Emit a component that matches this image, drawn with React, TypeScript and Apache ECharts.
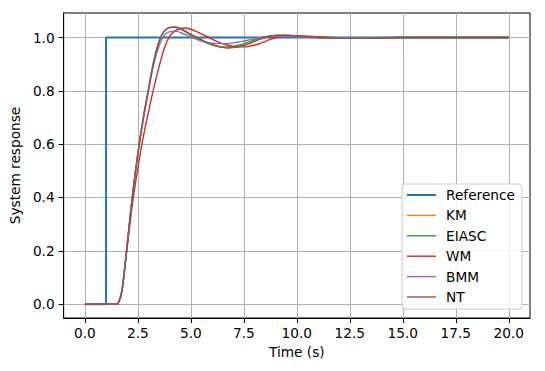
import React, { useEffect, useRef } from "react";
import * as echarts from "echarts";

const times = [0, 1.5, 1.6, 1.75, 1.9, 2.0, 2.25, 2.5, 2.75, 3.0, 3.25, 3.5, 3.75, 4.0, 4.25, 4.5, 4.75, 5.0, 5.25, 5.5, 5.75, 6.0, 6.25, 6.5, 6.75, 7.0, 7.25, 7.5, 7.75, 8.0, 8.25, 8.5, 8.75, 9.0, 9.25, 9.5, 9.75, 10, 10.5, 11, 11.5, 12, 12.5, 13, 14, 15, 16, 17, 18, 19, 20];

const refTimes = [0, 1, 1, 20];
const refValues = [0, 0, 1, 1];

const kmValues = [0, 0, 0.008, 0.05, 0.15, 0.225, 0.41, 0.565, 0.695, 0.805, 0.91, 0.985, 1.025, 1.038, 1.039, 1.033, 1.023, 1.011, 1.001, 0.991, 0.981, 0.973, 0.967, 0.963, 0.962, 0.963, 0.966, 0.971, 0.978, 0.986, 0.994, 1.0, 1.005, 1.008, 1.009, 1.009, 1.008, 1.006, 1.003, 1.0, 0.998, 0.997, 0.997, 0.998, 0.999, 1, 1, 1, 1, 1, 1];
const eiascValues = [0, 0, 0.008, 0.05, 0.15, 0.225, 0.41, 0.565, 0.695, 0.805, 0.91, 0.985, 1.024, 1.037, 1.038, 1.032, 1.021, 1.009, 0.999, 0.989, 0.98, 0.973, 0.968, 0.965, 0.965, 0.967, 0.971, 0.977, 0.984, 0.991, 0.998, 1.003, 1.006, 1.008, 1.008, 1.007, 1.006, 1.004, 1.002, 1.0, 0.998, 0.998, 0.998, 0.999, 0.999, 1, 1, 1, 1, 1, 1];
const wmValues = [0, 0, 0.008, 0.05, 0.148, 0.215, 0.38, 0.51, 0.625, 0.72, 0.81, 0.89, 0.96, 1.005, 1.025, 1.034, 1.036, 1.031, 1.023, 1.014, 1.004, 0.994, 0.985, 0.977, 0.971, 0.967, 0.965, 0.965, 0.967, 0.971, 0.977, 0.985, 0.993, 0.999, 1.003, 1.006, 1.007, 1.007, 1.005, 1.003, 1.001, 0.999, 0.998, 0.998, 0.999, 1, 1, 1, 1, 1, 1];
const bmmValues = [0, 0, 0.008, 0.05, 0.15, 0.225, 0.41, 0.563, 0.69, 0.8, 0.9, 0.968, 1.008, 1.022, 1.024, 1.019, 1.011, 1.002, 0.994, 0.987, 0.982, 0.979, 0.977, 0.977, 0.978, 0.98, 0.983, 0.987, 0.991, 0.995, 0.999, 1.002, 1.004, 1.005, 1.005, 1.005, 1.004, 1.003, 1.001, 1.0, 0.999, 0.999, 0.999, 0.999, 1.0, 1, 1, 1, 1, 1, 1];
const ntValues = [0, 0, 0.008, 0.05, 0.15, 0.225, 0.41, 0.565, 0.695, 0.805, 0.91, 0.985, 1.025, 1.038, 1.04, 1.034, 1.024, 1.012, 1.002, 0.992, 0.982, 0.974, 0.967, 0.963, 0.961, 0.962, 0.965, 0.97, 0.977, 0.985, 0.993, 1.0, 1.005, 1.008, 1.009, 1.009, 1.008, 1.006, 1.003, 1.0, 0.998, 0.997, 0.997, 0.998, 0.999, 1, 1, 1, 1, 1, 1];

const xTicks = [0, 2.5, 5, 7.5, 10, 12.5, 15, 17.5, 20];
const yTicks = [0, 0.2, 0.4, 0.6, 0.8, 1.0];

const seriesDefs = [
  { name: "KM", values: kmValues, color: "#ff7f0e" },
  { name: "EIASC", values: eiascValues, color: "#2ca02c" },
  { name: "WM", values: wmValues, color: "#d62728" },
  { name: "BMM", values: bmmValues, color: "#9467bd" },
  { name: "NT", values: ntValues, color: "#8c564b" },
];

const FONT = "DejaVu Sans";
const FS = 13.7;

export default function App() {
  const ref = useRef<HTMLDivElement>(null);
  useEffect(() => {
    if (!ref.current) return;
    const chart = echarts.init(ref.current, null, { renderer: "svg" });
    const pair = (ts: number[], vs: number[]) => ts.map((t, i) => [t, vs[i]]);
    const thickIcon = "path://M0,0 L29,0 L29,2 L0,2 Z";
    const thinIcon = "path://M0,0 L29,0 L29,1.4 L0,1.4 Z";
    chart.setOption({
      animation: false,
      backgroundColor: "#ffffff",
      textStyle: { fontFamily: FONT, fontSize: FS, color: "#000" },
      grid: {
        left: 61,
        top: 13,
        right: 15,
        bottom: 53,
        show: true,
        borderColor: "#000",
        borderWidth: 1,
        backgroundColor: "transparent",
      },
      xAxis: {
        type: "value",
        min: -1,
        max: 21,
        name: "Time (s)",
        nameLocation: "middle",
        nameGap: 27,
        nameTextStyle: { fontFamily: FONT, fontSize: FS, color: "#000" },
        axisLine: { show: true, onZero: false, lineStyle: { color: "#000", width: 1 } },
        axisTick: { show: true, length: 5, customValues: xTicks, lineStyle: { color: "#000", width: 1 } },
        axisLabel: {
          customValues: xTicks,
          margin: 8,
          fontFamily: FONT,
          fontSize: FS,
          color: "#000",
          formatter: (v: number) => v.toFixed(1),
        },
        splitLine: { show: true, lineStyle: { color: "#b0b0b0", width: 1 } },
      },
      yAxis: {
        type: "value",
        min: -0.052,
        max: 1.092,
        name: "System response",
        nameLocation: "middle",
        nameGap: 33,
        nameTextStyle: { fontFamily: FONT, fontSize: FS, color: "#000" },
        axisLine: { show: true, onZero: false, lineStyle: { color: "#000", width: 1 } },
        axisTick: { show: true, length: 5, customValues: yTicks, lineStyle: { color: "#000", width: 1 } },
        axisLabel: {
          customValues: yTicks,
          margin: 9,
          fontFamily: FONT,
          fontSize: FS,
          color: "#000",
          formatter: (v: number) => v.toFixed(1),
        },
        splitLine: { show: true, lineStyle: { color: "#b0b0b0", width: 1 } },
      },
      legend: {
        orient: "vertical",
        left: 402,
        top: 184,
        padding: [4, 7, 5, 5],
        itemWidth: 29,
        itemHeight: 14,
        itemGap: 6.4,
        symbolKeepAspect: true,
        backgroundColor: "rgba(255,255,255,0.85)",
        borderColor: "#cccccc",
        borderWidth: 1,
        borderRadius: 3,
        textStyle: { fontFamily: FONT, fontSize: FS, color: "#000", lineHeight: 14, padding: [0, 0, 0, 5] },
        data: [
          { name: "Reference", icon: thickIcon },
          ...seriesDefs.map((s) => ({ name: s.name, icon: thinIcon })),
        ],
      },
      series: [
        {
          name: "Reference",
          type: "line",
          data: pair(refTimes, refValues),
          symbol: "none",
          color: "#1f77b4",
          itemStyle: { color: "#1f77b4" },
          lineStyle: { color: "#1f77b4", width: 2 },
          z: 2,
        },
        ...seriesDefs.map((s, i) => ({
          name: s.name,
          type: "line",
          data: pair(times, s.values),
          symbol: "none",
          smooth: 0.3,
          color: s.color,
          itemStyle: { color: s.color },
          lineStyle: { color: s.color, width: 1.4 },
          z: 3 + i,
        })),
      ],
    });
    return () => chart.dispose();
  }, []);
  return <div ref={ref} style={{ position: "fixed", left: 0, top: 0, width: 545, height: 371 }} />;
}
